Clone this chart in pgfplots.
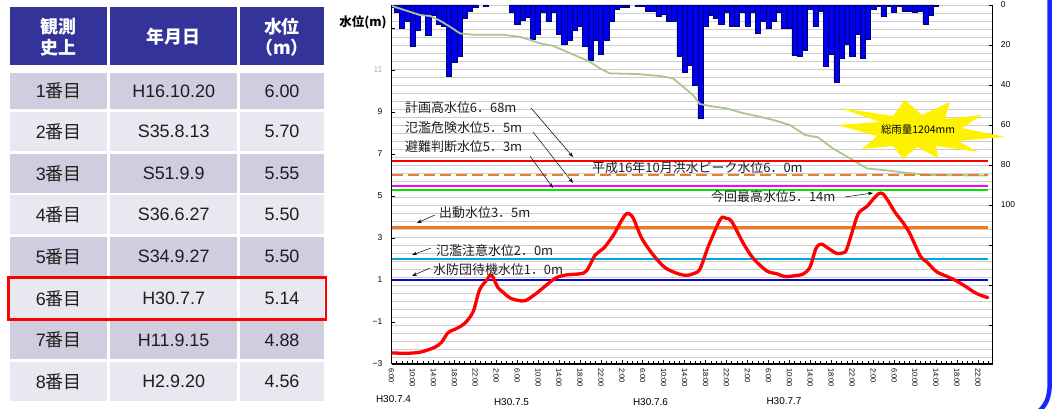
\documentclass[border=0pt]{standalone}
\usepackage{fontspec}
\setmainfont{Liberation Sans}
\newfontfamily\jp{Noto Sans CJK JP}
\usepackage{pgfplots}
\pgfplotsset{compat=1.18}
\usetikzlibrary{arrows.meta}
\definecolor{hdr}{RGB}{51,51,153}
\definecolor{rowA}{RGB}{206,206,222}
\definecolor{rowB}{RGB}{232,232,240}
\definecolor{barblue}{RGB}{0,0,240}
\definecolor{baredge}{RGB}{0,0,110}
\definecolor{cum}{RGB}{170,198,140}
\definecolor{orgd}{RGB}{235,125,50}
\definecolor{org}{RGB}{245,120,30}
\definecolor{cyn}{RGB}{0,165,225}
\definecolor{navy2}{RGB}{10,10,200}
\definecolor{grn}{RGB}{0,230,0}
\definecolor{magc}{RGB}{255,0,255}
\definecolor{gridc}{RGB}{205,205,205}
\definecolor{txt}{RGB}{30,30,30}
\definecolor{bord}{RGB}{20,40,255}
\begin{document}
\begin{tikzpicture}
\useasboundingbox (0,0) rectangle (1061bp,409bp);
% ---------- rain axis (right) ----------
\begin{axis}[at={(391.5bp,45bp)}, anchor=south west, scale only axis,
  width=601.2bp, height=359bp,
  xmin=0, xmax=114.84, ymin=0, ymax=179.5, y dir=reverse,
  axis x line=none, axis y line*=right,
  ytick={0,20,...,160}, yticklabels={0,20,40,60,80,100,,,},
  minor ytick={4,8,...,176},
  ymajorgrids, yminorgrids,
  grid style={draw=gridc, line width=0.9bp},
  minor grid style={draw=gridc, line width=0.9bp},
  tick align=inside, major tick length=4bp, minor tick length=0pt,
  tick style={black, line width=0.6bp},
  axis line style={line width=1.2bp},
  yticklabel style={font=\fontsize{8.5}{8.5}\selectfont, anchor=west, inner sep=0pt},
  yticklabel shift=8bp,
  no markers]
\addplot[ybar, bar width=1, bar shift=0pt, fill=barblue, draw=baredge, line width=0.5bp] coordinates {
(0,1.2)(1,3.8)(2,11.7)(3,8.3)(4,20.8)(5,12.8)(6,5)(7,15)(8,5)(9,9.5)(10,10.5)(11,35.8)(12,28.8)(13,25.8)(14,6.7)(15,3.3)(16,1.2)(18,0.8)
(23,3.8)(24,9.5)(25,7.5)(26,6)(27,17.2)(28,14.7)(29,3.8)(30,8.3)(31,3.8)(32,14.7)(33,19.7)(34,17.5)(35,12.8)(36,10.5)(37,20.5)(38,27.8)(39,17.5)(40,24.7)(41,17.5)(42,8)(43,2.2)(44,1.2)(45,1.2)
(47,0.8)(48,0.8)(49,3.3)(50,3.3)(51,5.8)(52,4.5)(53,8.3)(54,8.3)(55,25.8)(56,33.8)(57,30)(58,40)(59,56.7)(60,10.8)(61,5)(62,6.7)(63,9.5)(64,3.8)(65,10.5)(66,10.8)(67,3.8)(68,10.5)(69,3.8)(70,14.2)(71,8.3)(72,11.7)(73,8.3)(74,3.8)(75,11.7)(76,11.7)
(77,25)(78,25.8)(79,22.8)(80,2)(81,10.5)(82,3.3)(83,30.8)(84,24.7)(85,38.7)(86,26.7)(87,19.7)(88,25.8)(89,14.7)(90,26.7)(91,17.2)(92,2.2)(93,0.5)(94,5.8)(95,0.5)(96,3.8)(97,0.8)(98,3.3)(99,3.3)(100,3.8)(101,3.3)(102,9.5)(103,5)(104,0.8)};
\addplot[cum, line width=1.8bp, line join=round] coordinates {
(0,0.4)(3.5,3.4)(5.4,5)(7.4,5.5)(9.3,7.9)(11.2,10.9)(13.1,14.2)(15.6,14.9)(21.3,14.9)(24.5,15.9)(26.5,17.5)(28.4,19.2)(30.8,20.4)(33.5,23.4)(36,26.2)(37.9,28.4)(39.8,31.7)(41.7,34.2)(46.8,34.5)(51.3,35.5)(53.8,36.7)(55.7,40.9)(57.6,45)(58.9,49.5)(60.8,50.5)(64,51.7)(67.1,54)(70.4,55.9)(72.9,57.5)(76.1,60)(79,65)(81.5,66.2)(84.3,71.7)(87.6,76.7)(90.8,81.7)(95.2,82.9)(98.4,83.9)(102.9,85)(113.9,85.3)};
\end{axis}
% ---------- water level axis (left) ----------
\begin{axis}[at={(391.5bp,45bp)}, anchor=south west, scale only axis,
  width=601.2bp, height=359bp,
  xmin=0, xmax=114.84, ymin=-3, ymax=14.1,
  axis x line*=bottom, axis y line*=left,
  ytick={-3,-1,...,13}, yticklabels={−3,−1,1,3,5,7,9,\textcolor{gray!60}{11},},
  xtick={0,4,...,112},
  xticklabels={6:00,10:00,14:00,18:00,22:00,2:00,6:00,10:00,14:00,18:00,22:00,2:00,6:00,10:00,14:00,18:00,22:00,2:00,6:00,10:00,14:00,18:00,22:00,2:00,6:00,10:00,14:00,18:00,22:00},
  minor xtick={0,1,...,114},
  tick align=inside, major tick length=3.5bp, minor tick length=2.5bp,
  tick style={black, line width=0.6bp},
  axis line style={line width=1.3bp},
  xticklabel style={rotate=-90, anchor=west, inner sep=0pt, font=\fontsize{7.5}{7.5}\selectfont},
  xticklabel shift=4bp,
  yticklabel style={font=\fontsize{8.5}{8.5}\selectfont, anchor=east, inner sep=0pt},
  yticklabel shift=9bp,
  no markers]
\addplot[red, line width=1.6bp] coordinates {(0,6.68)(113.9,6.68)};
\addplot[orgd, line width=2bp, dash pattern=on 11bp off 5bp] coordinates {(0,6.0)(113.9,6.0)};
\addplot[magc, line width=2bp] coordinates {(0,5.5)(113.9,5.5)};
\addplot[grn, line width=2bp] coordinates {(0,5.3)(113.9,5.3)};
\addplot[org, line width=2.2bp] coordinates {(0,3.5)(113.9,3.5)};
\addplot[cyn, line width=1.8bp] coordinates {(0,2.0)(113.9,2.0)};
\addplot[navy2, line width=1.6bp] coordinates {(0,1.0)(113.9,1.0)};
\addplot[red, line width=3.3bp, smooth, tension=0.5, line join=round, line cap=round] coordinates {
(0,-2.47)(2.9,-2.49)(5.6,-2.43)(8.3,-2.2)(9.6,-1.95)(10.8,-1.51)(12.5,-1.3)(14,-1.06)(15.6,-0.51)(16.8,0.52)(18.2,1.0)(19.1,1.24)(20.3,0.65)(21.4,0.4)(22.6,0.15)(24.2,0.03)(25.6,0.02)(27.7,0.37)(29.6,0.76)(31.4,1.1)(33.3,1.24)(36.1,1.3)(37.3,1.45)(38.9,2.19)(40.5,2.51)(42.4,3.14)(44,3.86)(45,4.17)(46.1,3.98)(47.8,2.99)(50,2.19)(52.2,1.6)(54.5,1.32)(56.3,1.22)(57.6,1.3)(58.9,1.51)(60.5,2.59)(62.8,3.89)(63.8,3.95)(65,3.78)(67.2,2.75)(69.1,2.03)(71.7,1.43)(73.6,1.3)(75.2,1.16)(77.4,1.22)(78.6,1.28)(79.9,1.6)(81.1,2.51)(82.1,2.71)(83.5,2.5)(85,2.27)(86.3,2.3)(87,2.5)(88.9,4.01)(89.8,4.33)(90.8,4.5)(92,4.85)(93.1,5.12)(93.9,5.1)(94.9,4.75)(96.2,4.22)(97.8,3.7)(99,3.22)(101,2.15)(102.3,1.85)(104.1,1.4)(106.3,1.15)(107.6,1.0)(109.5,0.72)(111.3,0.42)(112.5,0.28)(113.9,0.16)};
\end{axis}
% ---------- annotations / table in image coordinates ----------
\begin{scope}[x=1bp, y=-1bp, shift={(0,409bp)}]
% right blue border
\draw[bord, line width=4.5bp] (1049.7,-5) -- (1049.7,383) .. controls (1049.7,398) and (1046,406) .. (1036,414);
% y label
\node[font=\jp\bfseries\fontsize{12.5}{12.5}\selectfont, inner sep=0pt] at (363,22) {水位(m)};
% dates
\foreach \xx/\yy/\tt in {393.5/399.5/H30.7.4, 511.5/401.7/H30.7.5, 650.5/401.7/H30.7.6, 784/401/H30.7.7}
  \node[font=\fontsize{10}{10}\selectfont, inner sep=0pt] at (\xx,\yy) {\tt};
% starburst
\fill[yellow] (837,125) -- (880,122) -- (840,108) -- (893,116) -- (905,100) -- (922,115) -- (950,102) -- (945,119) -- (982,115) -- (962,128) -- (1005,137) -- (958,141) -- (978,152) -- (936,146) -- (938,158) -- (917,147) -- (903,159) -- (893,146) -- (862,149) -- (877,136) -- cycle;
\node[font=\jp\fontsize{10.5}{10.5}\selectfont, inner sep=0pt] at (918,130) {総雨量1204mm};
% level labels
\tikzset{lab/.style={anchor=west, inner sep=0pt, text=txt, font=\jp\fontsize{13}{13}\selectfont},
         arr/.style={-{Stealth[length=5bp,width=3.5bp]}, line width=0.5bp, black}}
\node[lab] at (405,108) {計画高水位6．68m};
\node[lab] at (405,128) {氾濫危険水位5．5m};
\node[lab] at (405,147) {避難判断水位5．3m};
\node[lab] at (592,168) {平成16年10月洪水ピーク水位6．0m};
\node[lab] at (711,197) {今回最高水位5．14m};
\node[lab] at (439,213) {出動水位3．5m};
\node[lab] at (436,251) {氾濫注意水位2．0m};
\node[lab] at (433,270) {水防団待機水位1．0m};
\draw[arr] (531,108) -- (573,157);
\draw[arr] (533,132) -- (573,183);
\draw[arr] (530,156) -- (553,188);
\draw[arr] (845,197) -- (873,193);
\draw[arr] (435,215) -- (417,223);
\draw[arr] (431,248) -- (412,255);
\draw[arr] (430,268) -- (412,276);
% ---------- table ----------
\fill[hdr] (10,7) rectangle (107.3,65);
\fill[hdr] (110,7) rectangle (237.3,65);
\fill[hdr] (240,7) rectangle (324.3,65);
\node[text=white, font=\jp\bfseries\fontsize{18}{21}\selectfont, align=center, inner sep=0pt] at (58.7,37.5) {観測\\史上};
\node[text=white, font=\jp\bfseries\fontsize{18}{21}\selectfont, inner sep=0pt] at (173.7,36.5) {年月日};
\node[text=white, font=\jp\bfseries\fontsize{18}{21}\selectfont, align=center, inner sep=0pt] at (282,37.5) {水位\\（m）};
\foreach \t/\b/\c/\n/\d/\v in {
 73.3/109.3/rowA/1/H16.10.20/6.00,
 111.7/151/rowB/2/S35.8.13/5.70,
 154/192.7/rowA/3/S51.9.9/5.55,
 195.3/234.3/rowB/4/S36.6.27/5.50,
 237.3/276/rowA/5/S34.9.27/5.50,
 279.3/318.3/rowB/6/H30.7.7/5.14,
 320.7/359.3/rowA/7/H11.9.15/4.88,
 362/400.7/rowB/8/H2.9.20/4.56}{
  \fill[\c] (10,\t) rectangle (107.3,\b);
  \fill[\c] (110,\t) rectangle (237.3,\b);
  \fill[\c] (240,\t) rectangle (324.3,\b);
  \node[text=txt, font=\fontsize{18}{18}\selectfont, inner sep=0pt] at (58.7,{(\t+\b)/2}) {\n\jp 番目};
  \node[text=txt, font=\fontsize{18}{18}\selectfont, inner sep=0pt] at (173.7,{(\t+\b)/2}) {\d};
  \node[text=txt, font=\fontsize{18}{18}\selectfont, inner sep=0pt] at (282,{(\t+\b)/2}) {\v};
}
\draw[red, line width=2.5bp] (8.5,277.5) rectangle (326,319.5);
\end{scope}
\end{tikzpicture}
\end{document}
